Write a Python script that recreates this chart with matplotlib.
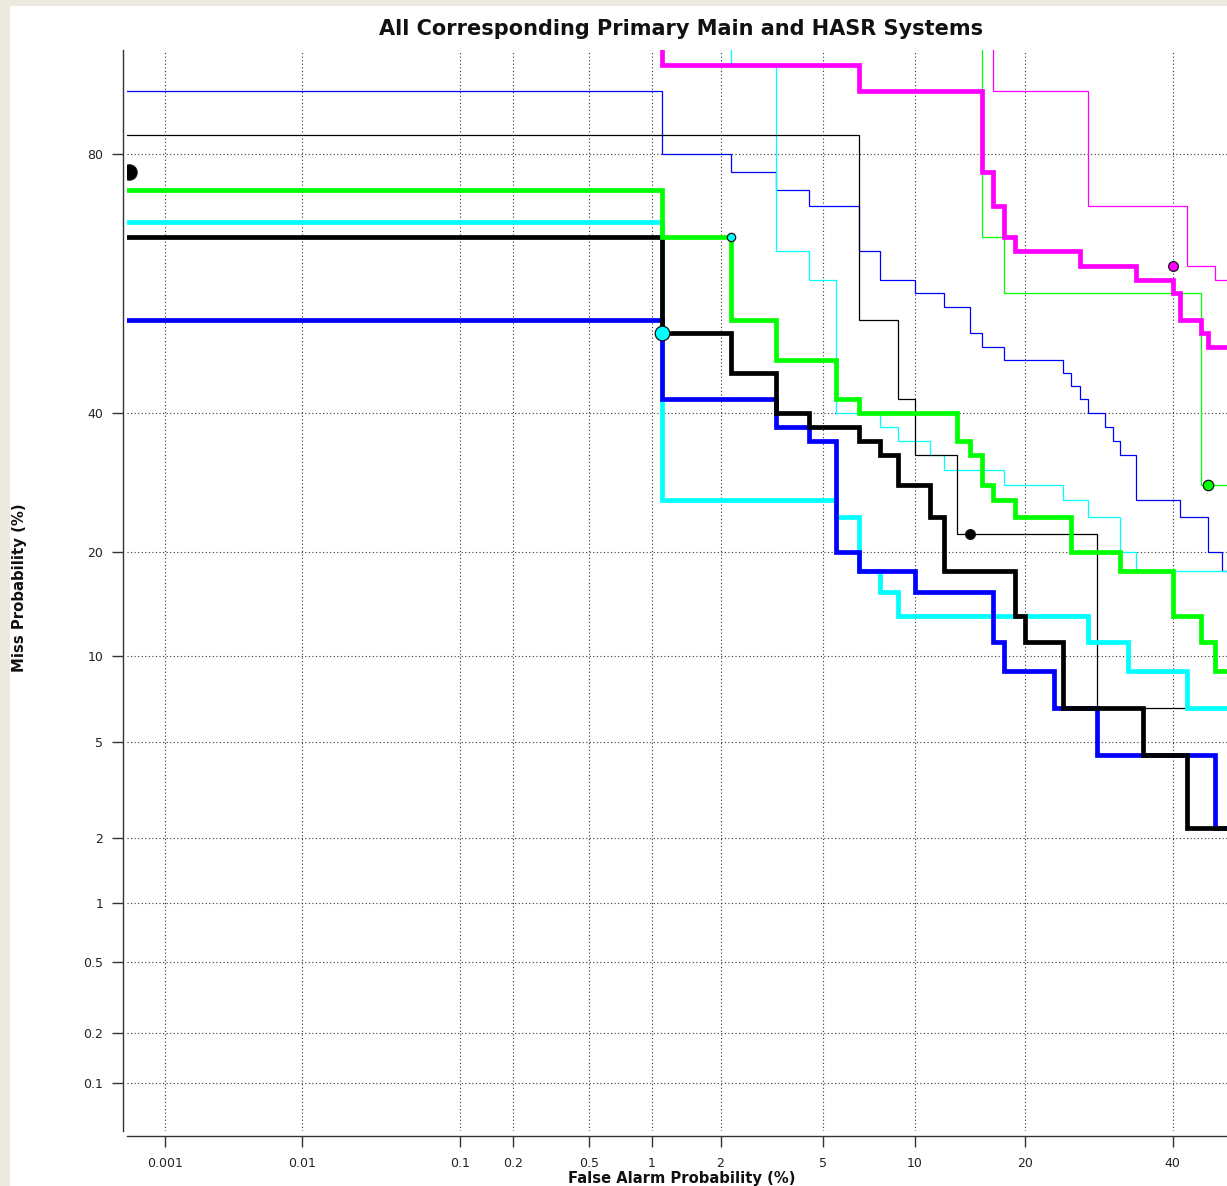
import math
import numpy as np
import matplotlib
matplotlib.use("Agg")
import matplotlib.pyplot as plt
from matplotlib.ticker import FixedLocator, FixedFormatter, NullLocator
from matplotlib.patches import Rectangle

# ---------------- data (percent) ----------------
fa_ticks = [0.001, 0.01, 0.1, 0.2, 0.5, 1, 2, 5, 10, 20, 40]
fa_tick_labels = ["0.001", "0.01", "0.1", "0.2", "0.5", "1", "2", "5", "10", "20", "40"]
miss_ticks = [0.1, 0.2, 0.5, 1, 2, 5, 10, 20, 40, 80]
miss_tick_labels = ["0.1", "0.2", "0.5", "1", "2", "5", "10", "20", "40", "80"]

# thick (Main) curves: step vertices (steps-post)
magenta_main_fa = [0.0005, 1.11, 6.67, 15.56, 16.67, 17.78, 18.89, 26.67, 34.44, 40.0, 41.11, 44.44, 45.56, 50.0]
magenta_main_miss = [97.78, 88.89, 86.67, 77.78, 73.33, 68.89, 66.67, 64.44, 62.22, 60.0, 55.56, 53.33, 51.11, 51.11]

green_main_fa = [0.0005, 1.11, 2.22, 3.33, 5.56, 6.67, 13.33, 14.44, 15.56, 16.67, 18.89, 25.56, 32.22, 40.0, 44.44, 46.67, 50.0]
green_main_miss = [75.56, 68.89, 55.56, 48.89, 42.22, 40.0, 35.56, 33.33, 28.89, 26.67, 24.44, 20.0, 17.78, 13.33, 11.11, 8.89, 8.89]

cyan_main_fa = [0.0005, 1.11, 5.56, 6.67, 7.78, 8.89, 27.78, 33.33, 42.22, 50.0]
cyan_main_miss = [71.11, 26.67, 24.44, 17.78, 15.56, 13.33, 11.11, 8.89, 6.67, 6.67]

blue_main_fa = [0.0005, 1.11, 3.33, 4.44, 5.56, 6.67, 10.0, 16.67, 17.78, 23.33, 28.89, 46.67, 50.0]
blue_main_miss = [55.56, 42.22, 37.78, 35.56, 20.0, 17.78, 15.56, 11.11, 8.89, 6.67, 4.44, 2.22, 2.22]

black_main_fa = [0.0005, 1.11, 2.22, 3.33, 4.44, 6.67, 7.78, 8.89, 11.11, 12.22, 18.89, 20.0, 24.44, 35.56, 42.22, 50.0]
black_main_miss = [68.89, 53.33, 46.67, 40.0, 37.78, 35.56, 33.33, 28.89, 24.44, 17.78, 13.33, 11.11, 6.67, 4.44, 2.22, 2.22]

# thin (HASR) curves
magenta_hasr_fa = [0.0005, 16.67, 27.78, 42.22, 46.67, 50.0]
magenta_hasr_miss = [97.78, 86.67, 73.33, 64.44, 62.22, 62.22]

green_hasr_fa = [0.0005, 15.56, 17.78, 44.44, 50.0]
green_hasr_miss = [97.78, 68.89, 60.0, 28.89, 28.89]

cyan_hasr_fa = [0.0005, 2.22, 3.33, 4.44, 5.56, 7.78, 8.89, 11.11, 12.22, 17.78, 24.44, 27.78, 32.22, 34.44, 50.0]
cyan_hasr_miss = [97.78, 88.89, 66.67, 62.22, 40.0, 37.78, 35.56, 33.33, 31.11, 28.89, 26.67, 24.44, 20.0, 17.78, 17.78]

blue_hasr_fa = [0.0005, 1.11, 2.22, 3.33, 4.44, 6.67, 7.78, 10.0, 12.22, 14.44, 15.56, 17.78, 24.44, 25.56, 26.67,
                27.78, 30.0, 31.11, 32.22, 34.44, 41.11, 45.56, 47.78, 50.0]
blue_hasr_miss = [86.67, 80.0, 77.78, 75.56, 73.33, 66.67, 62.22, 60.0, 57.78, 53.33, 51.11, 48.89, 46.67, 44.44, 42.22,
                  40.0, 37.78, 35.56, 33.33, 26.67, 24.44, 20.0, 17.78, 17.78]

black_hasr_fa = [0.0005, 6.67, 8.89, 10.0, 13.33, 28.89, 50.0]
black_hasr_miss = [82.22, 55.56, 42.22, 33.33, 22.22, 6.67, 6.67]

# operating-point markers
op_fa = [0.00052, 1.11, 2.22, 40.0, 45.56, 14.44]
op_miss = [77.78, 53.33, 68.89, 64.44, 28.89, 22.22]
op_colors = ["#000000", "#00FFFF", "#00FFFF", "#FF00FF", "#00FF00", "#000000"]
op_sizes = [11, 10.5, 6, 7, 7.5, 7]


# ---------------- normal deviate scale ----------------
_a = [-3.969683028665376e+01, 2.209460984245205e+02, -2.759285104469687e+02,
      1.383577518672690e+02, -3.066479806614716e+01, 2.506628277459239e+00]
_b = [-5.447609879822406e+01, 1.615858368580409e+02, -1.556989798598866e+02,
      6.680131188771972e+01, -1.328068155288572e+01]
_c = [-7.784894002430293e-03, -3.223964580411365e-01, -2.400758277161838e+00,
      -2.549671010615412e+00, 4.374664141464968e+00, 2.938163982698783e+00]
_d = [7.784695709041462e-03, 3.224671290700398e-01, 2.445134137142996e+00,
      3.754408661907416e+00]


def probit(pct):
    p = np.clip(np.asarray(pct, dtype=float) / 100.0, 1e-12, 1 - 1e-12)
    plow = 0.02425
    q = p - 0.5
    r = q * q
    central = (((((_a[0] * r + _a[1]) * r + _a[2]) * r + _a[3]) * r + _a[4]) * r + _a[5]) * q / \
              (((((_b[0] * r + _b[1]) * r + _b[2]) * r + _b[3]) * r + _b[4]) * r + 1)
    ql = np.sqrt(-2 * np.log(np.minimum(p, 1 - p)))
    tail = (((((_c[0] * ql + _c[1]) * ql + _c[2]) * ql + _c[3]) * ql + _c[4]) * ql + _c[5]) / \
           ((((_d[0] * ql + _d[1]) * ql + _d[2]) * ql + _d[3]) * ql + 1)
    out = np.where(p < plow, tail, np.where(p > 1 - plow, -tail, central))
    return out


_erfc = np.vectorize(math.erfc, otypes=[float])


def inv_probit(z):
    z = np.asarray(z, dtype=float)
    return 50.0 * _erfc(-z / math.sqrt(2.0))


# ---------------- figure ----------------
W, H = 1227, 1186
fig = plt.figure(figsize=(W / 100, H / 100), dpi=100)
fig.patch.set_facecolor("#ECE9DF")
fig.patches.append(Rectangle((10 / W, 0), 1, 1 - 6 / H, transform=fig.transFigure,
                             facecolor="white", edgecolor="none", zorder=-10))

ax = fig.add_axes([126.8 / W, 1 - 1130.5 / H, (W - 126.8) / W, (1130.5 - 50.35) / H])
ax.set_zorder(1)
ax.patch.set_alpha(0)
ax.set_xscale("function", functions=(probit, inv_probit))
ax.set_yscale("function", functions=(probit, inv_probit))
ax.set_xlim(0.0005, 48.5)
ax.set_ylim(0.05, 90)

ax.xaxis.set_major_locator(FixedLocator(fa_ticks))
ax.xaxis.set_major_formatter(FixedFormatter(fa_tick_labels))
ax.xaxis.set_minor_locator(NullLocator())
ax.yaxis.set_major_locator(FixedLocator(miss_ticks))
ax.yaxis.set_major_formatter(FixedFormatter(miss_tick_labels))
ax.yaxis.set_minor_locator(NullLocator())

ax.set_axisbelow(True)
ax.grid(True, color="#333333", linestyle=(0, (1, 2.2)), linewidth=0.8)

for s in ("top", "right"):
    ax.spines[s].set_visible(False)
ax.spines["left"].set_position(("outward", 2.8))
ax.spines["bottom"].set_position(("outward", 4))
for s in ("left", "bottom"):
    ax.spines[s].set_color("#333333")
    ax.spines[s].set_linewidth(1.0)

ax.tick_params(axis="x", direction="out", length=8, width=1, color="#333333",
               labelsize=9, pad=7, labelcolor="#222222")
ax.tick_params(axis="y", direction="out", length=8, width=1, color="#333333",
               labelsize=9, pad=6, labelcolor="#222222")

thin_lw = 0.9
thick_lw = 3.4
kw = dict(drawstyle="steps-post", solid_joinstyle="miter")

# thin lines
ax.plot(blue_hasr_fa, blue_hasr_miss, color="#0000FF", lw=thin_lw, zorder=3, **kw)
ax.plot(green_hasr_fa, green_hasr_miss, color="#00FF00", lw=thin_lw, zorder=3, **kw)
ax.plot(magenta_hasr_fa, magenta_hasr_miss, color="#FF00FF", lw=thin_lw, zorder=3, **kw)
ax.plot(cyan_hasr_fa, cyan_hasr_miss, color="#00FFFF", lw=thin_lw, zorder=3.1, **kw)
ax.plot(black_hasr_fa, black_hasr_miss, color="#000000", lw=thin_lw, zorder=3.2, **kw)

# thick lines
ax.plot(cyan_main_fa, cyan_main_miss, color="#00FFFF", lw=thick_lw, zorder=4, **kw)
ax.plot(blue_main_fa, blue_main_miss, color="#0000FF", lw=thick_lw, zorder=4.1, **kw)
ax.plot(black_main_fa, black_main_miss, color="#000000", lw=thick_lw, zorder=4.2, **kw)
ax.plot(green_main_fa, green_main_miss, color="#00FF00", lw=thick_lw, zorder=4.3, **kw)
ax.plot(magenta_main_fa, magenta_main_miss, color="#FF00FF", lw=thick_lw, zorder=4.4, **kw)

for fx, my, c, ms in zip(op_fa, op_miss, op_colors, op_sizes):
    ax.plot([fx], [my], marker="o", color=c, markersize=ms, markeredgecolor="#111111",
            markeredgewidth=0.9, zorder=6, linestyle="none")

fig.text(681.5 / W, 1 - 29 / H, "All Corresponding Primary Main and HASR Systems",
         ha="center", va="center", fontsize=15, fontweight="bold", color="#111111")
fig.text(681.5 / W, 1 - 1178 / H, "False Alarm Probability (%)",
         ha="center", va="center", fontsize=10.6, fontweight="bold", color="#111111")
fig.text(20 / W, 1 - 588 / H, "Miss Probability (%)", rotation=90,
         ha="center", va="center", fontsize=10.7, fontweight="bold", color="#111111")

fig.savefig("out.png", dpi=100, facecolor=fig.get_facecolor())
